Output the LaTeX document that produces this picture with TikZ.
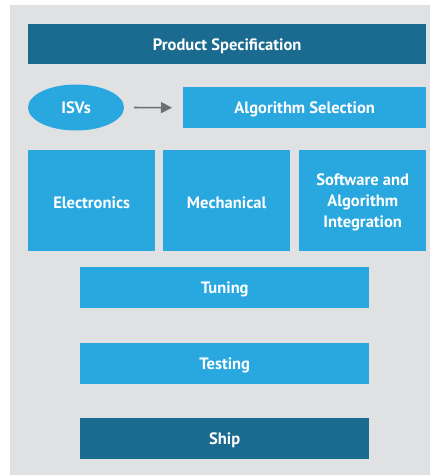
\documentclass[tikz,border=0pt]{standalone}
\usepackage{fontspec}
\setmainfont{PT Sans}
\usetikzlibrary{arrows.meta,shapes.geometric}
\definecolor{panel}{HTML}{E0E1E3}
\definecolor{darkb}{HTML}{1B6A8F}
\definecolor{lightb}{HTML}{29A7DF}
\definecolor{arrowg}{HTML}{6D6E70}
\begin{document}
\begin{tikzpicture}[x=1pt,y=-1pt,
  lbl/.style={text=white,font=\fontsize{16.5}{21}\selectfont\bfseries,align=center,inner sep=0pt,text depth=0pt},
  darkbox/.style={lbl,fill=darkb,rectangle,anchor=north west},
  lightbox/.style={lbl,fill=lightb,rectangle,anchor=north west}]
\useasboundingbox (0,0) rectangle (430,475);
\fill[white] (0,0) rectangle (430,475);
\fill[panel] (10,5) rectangle (430,475);
\node[darkbox,minimum width=398pt,minimum height=40pt] (spec) at (28,24) {Product Specification};
\node[lbl,fill=lightb,ellipse,minimum width=96pt,minimum height=46pt] (isv) at (76,107.5) {ISVs};
\node[lightbox,minimum width=243pt,minimum height=41pt] (alg) at (183,87) {Algorithm Selection};
\draw[arrowg,line width=1.6pt,-{Triangle[length=11pt,width=11pt]},shorten <=10pt,shorten >=11pt] (isv.east) -- (alg.west);
\node[lightbox,minimum width=127pt,minimum height=101pt,text height=16.5pt] (elec) at (28,150) {Electronics};
\node[lightbox,minimum width=127pt,minimum height=101pt,text height=16.5pt] (mech) at (163,150) {Mechanical};
\node[lightbox,minimum width=127pt,minimum height=101pt] (soft) at (299,150) {Software and\\Algorithm\\Integration};
\node[lightbox,minimum width=289pt,minimum height=41pt] (tune) at (80,267) {Tuning};
\node[lightbox,minimum width=289pt,minimum height=41pt] (test) at (80,343) {Testing};
\node[darkbox,minimum width=289pt,minimum height=41pt] (ship) at (80,418) {Ship};
\end{tikzpicture}
\end{document}
